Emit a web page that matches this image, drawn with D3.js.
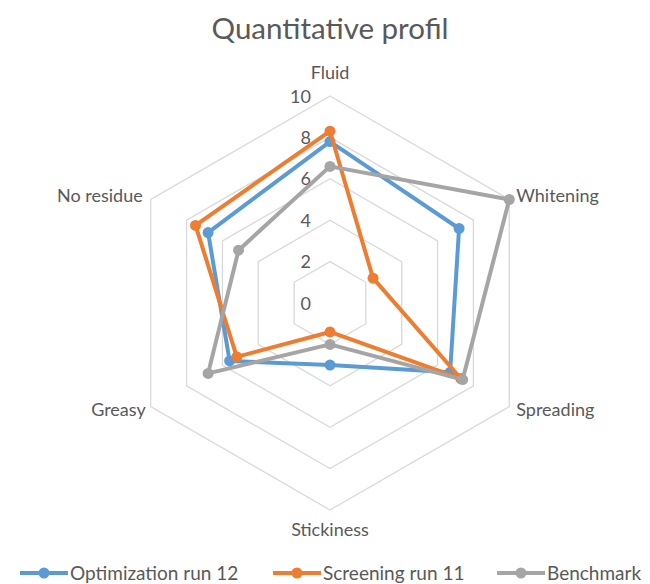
<!DOCTYPE html>
<html><head><meta charset="utf-8">
<script src="https://cdn.jsdelivr.net/npm/d3@7"></script>
<style>body{margin:0;background:#fff;} svg{display:block;}</style>
</head><body>
<svg id="chart" width="650" height="584"></svg>
<script>
const categories = ["Fluid","Whitening","Spreading","Stickiness","Greasy","No residue"];
const seriesNames = ["Optimization run 12","Screening run 11","Benchmark"];
const optimization = [7.8, 7.2, 6.7, 3.0, 5.6, 6.8];
const screening = [8.3, 2.4, 7.3, 1.4, 5.2, 7.5];
const benchmark = [6.6, 10.0, 7.4, 2.0, 6.8, 5.1];
const tickValues = [0, 2, 4, 6, 8, 10];
const colors = ["#5B9BD5", "#ED7D31", "#A5A5A5"];

const series = [optimization, screening, benchmark];
const svg = d3.select("#chart");
const font = "Lato, 'Open Sans', sans-serif";
const cx = 330, cy = 303, R = 207;
const r = d3.scaleLinear().domain([0, 10]).range([0, R]);
const angle = d3.scalePoint().domain(categories).range([0, 2*Math.PI*5/6]);
function pt(cat, v){ const a = angle(cat) - Math.PI/2; return [cx + r(v)*Math.cos(a), cy + r(v)*Math.sin(a)]; }

svg.append("text").attr("x", 330).attr("y", 39).attr("text-anchor","middle")
  .attr("font-family", font).attr("font-size", 29.5).attr("fill", "#595959").text("Quantitative profil");

const grid = svg.append("g");
tickValues.filter(t => t > 0).forEach(t => {
  grid.append("polygon").attr("points", categories.map(c => pt(c, t).join(",")).join(" "))
    .attr("fill","none").attr("stroke","#D9D9D9").attr("stroke-width",1.3);
});
tickValues.forEach(t => {
  svg.append("text").attr("x", 311).attr("y", cy - r(t) + 6.5).attr("text-anchor","end")
    .attr("font-family", font).attr("font-size", 18).attr("fill","#595959").text(t);
});

const labelPos = {
  "Fluid": {dx:0, dy:-23, anchor:"middle"},
  "Whitening": {dx:7, dy:-4, anchor:"start"},
  "Spreading": {dx:7, dy:3, anchor:"start"},
  "Stickiness": {dx:0, dy:20, anchor:"middle"},
  "Greasy": {dx:-5, dy:3, anchor:"end"},
  "No residue": {dx:-8, dy:-4, anchor:"end"}
};
categories.forEach(c => {
  const p = pt(c, 10), o = labelPos[c];
  svg.append("text").attr("x", p[0]+o.dx).attr("y", p[1]+o.dy+6).attr("text-anchor", o.anchor)
    .attr("font-family", font).attr("font-size", 18).attr("fill","#595959").text(c);
});

const line = d3.line().curve(d3.curveLinearClosed);
series.forEach((s, i) => {
  const pts = categories.map((c, j) => pt(c, s[j]));
  svg.append("path").attr("d", line(pts)).attr("fill","none").attr("stroke", colors[i])
    .attr("stroke-width", 4).attr("stroke-linejoin","round");
  svg.selectAll(null).data(pts).enter().append("circle")
    .attr("cx", d => d[0]).attr("cy", d => d[1]).attr("r", 5.5).attr("fill", colors[i]);
});

const legX = [20, 273, 497];
seriesNames.forEach((n, i) => {
  const g = svg.append("g").attr("transform", `translate(${legX[i]},573)`);
  g.append("line").attr("x1",0).attr("x2",48).attr("y1",0).attr("y2",0).attr("stroke",colors[i]).attr("stroke-width",4);
  g.append("circle").attr("cx",24).attr("cy",0).attr("r",5.5).attr("fill",colors[i]);
  g.append("text").attr("x",50).attr("y",6.5).attr("font-family",font).attr("font-size",19).attr("fill","#595959").text(n);
});
</script>
</body></html>
